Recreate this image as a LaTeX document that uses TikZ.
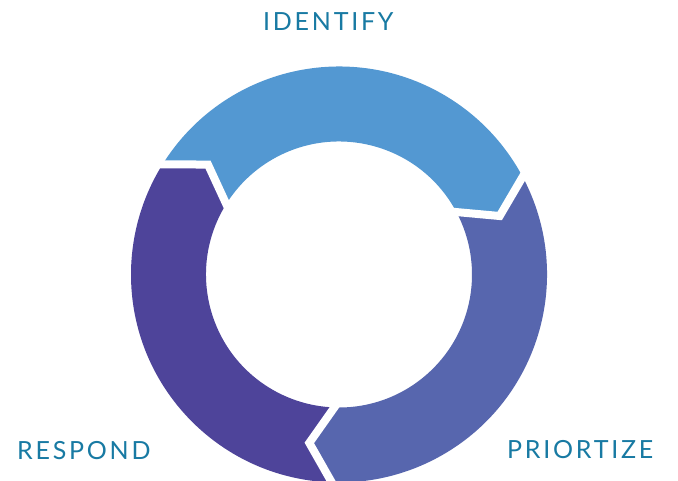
\documentclass[tikz,border=0pt]{standalone}
\usepackage{fontspec}
\setmainfont{Lato}
\usetikzlibrary{calc}
\definecolor{cid}{RGB}{83,152,210}
\definecolor{cpr}{RGB}{87,102,174}
\definecolor{cre}{RGB}{78,68,154}
\definecolor{ctext}{RGB}{24,122,163}
\newcommand{\RingOut}{208}
\newcommand{\RingIn}{133}
\newcommand{\RingMid}{171}
\tikzset{
  gapline/.style={draw=white,line width=8pt,line join=miter,line cap=butt},
  lbl/.style={text=ctext,inner sep=0pt,anchor=base west,font=\fontsize{25}{25}\selectfont\addfontfeatures{LetterSpace=11}}
}
\begin{document}
\begin{tikzpicture}[x=1pt,y=1pt]
\fill[white] (0,-481) rectangle (678,0);
\useasboundingbox (0,-481) rectangle (678,0);
\begin{scope}[shift={(339,-274.5)}]
\fill[cid] (148:\RingOut) arc[start angle=148,end angle=28,radius=\RingOut] -- (20:\RingMid) -- (28:\RingIn) arc[start angle=28,end angle=148,radius=\RingIn] -- (140:\RingMid) -- cycle;
\fill[cpr] (28:\RingOut) arc[start angle=28,end angle=-92,radius=\RingOut] -- (-100:\RingMid) -- (-92:\RingIn) arc[start angle=-92,end angle=28,radius=\RingIn] -- (20:\RingMid) -- cycle;
\fill[cre] (268:\RingOut) arc[start angle=268,end angle=148,radius=\RingOut] -- (140:\RingMid) -- (148:\RingIn) arc[start angle=148,end angle=268,radius=\RingIn] -- (260:\RingMid) -- cycle;
\foreach \a in {148,28,268}{
  \draw[gapline] ($(\a:\RingOut)!-0.2!({\a-8}:\RingMid)$) -- ({\a-8}:\RingMid) -- ($(\a:\RingIn)!-0.2!({\a-8}:\RingMid)$);
}
\end{scope}
\node[lbl] (identify) at (263,-31) {IDENTIFY};
\node[lbl] (respond) at (17,-459) {RESPOND};
\node[lbl] (prioritize) at (507,-458) {PRIORTIZE};
\end{tikzpicture}
\end{document}
